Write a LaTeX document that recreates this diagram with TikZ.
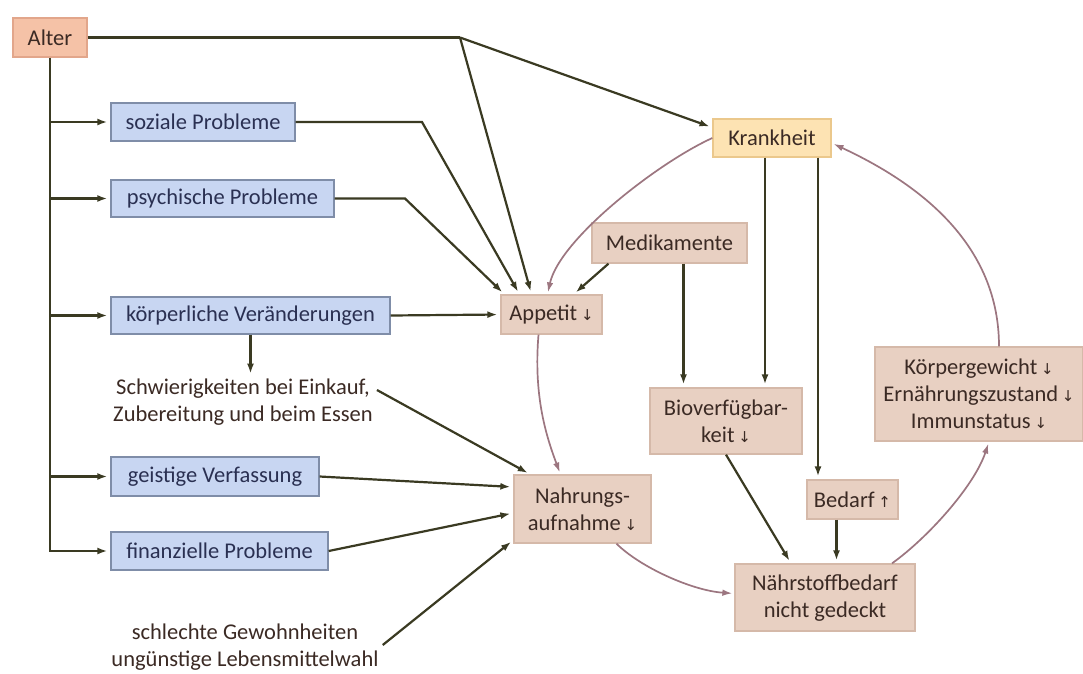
\documentclass[tikz,border=0pt]{standalone}
\usepackage{fontspec}
\setmainfont{Carlito}
\newfontfamily\arrowfont{DejaVu Sans}
\usetikzlibrary{arrows.meta,calc}
\definecolor{alterfill}{HTML}{F5C2A7}
\definecolor{alterborder}{HTML}{E2A68B}
\definecolor{bluefill}{HTML}{C8D6F2}
\definecolor{blueborder}{HTML}{7F8DA8}
\definecolor{bluetext}{HTML}{2A3052}
\definecolor{krankfill}{HTML}{FDE3B3}
\definecolor{krankborder}{HTML}{EBC88C}
\definecolor{rosefill}{HTML}{E8D0C2}
\definecolor{roseborder}{HTML}{D5B9A9}
\definecolor{txtcol}{HTML}{3B2A24}
\definecolor{linecol}{HTML}{3A3A22}
\definecolor{curvecol}{HTML}{9C7680}
\newcommand{\dnar}{\,{\arrowfont\fontsize{15}{15}\selectfont ↓}}
\newcommand{\upar}{\,{\arrowfont\fontsize{15}{15}\selectfont ↑}}
\begin{document}
\begin{tikzpicture}[x=1pt,y=-1pt,
  font=\fontsize{22.5}{27}\selectfont,
  box/.style={draw, line width=1.3pt, inner sep=0pt, align=center, text=txtcol},
  alterbox/.style={box, fill=alterfill, draw=alterborder},
  bluebox/.style={box, fill=bluefill, draw=blueborder, text=bluetext},
  krankbox/.style={box, fill=krankfill, draw=krankborder},
  rosebox/.style={box, fill=rosefill, draw=roseborder},
  plain/.style={align=center, text=txtcol, inner sep=2pt},
  ln/.style={draw=linecol, line width=2.2pt},
  arr/.style={draw=linecol, line width=2.2pt, -{Latex[length=10pt,width=7pt]}, shorten >=3pt},
  carr/.style={draw=curvecol, line width=1.7pt, -{Latex[length=10pt,width=6.5pt]}, shorten >=2pt}]
\useasboundingbox[fill=white] (0,0) rectangle (1083,673);

% nodes
\node[alterbox, minimum width=74pt, minimum height=39pt] (alter) at (50,37.5) {Alter};
\node[bluebox, minimum width=184pt, minimum height=38pt] (soz) at (203,122) {soziale Probleme};
\node[bluebox, minimum width=223pt, minimum height=37pt] (psy) at (222.5,198.5) {psychische Probleme};
\node[bluebox, minimum width=279pt, minimum height=37pt] (koe) at (250.5,315.5) {körperliche Veränderungen};
\node[bluebox, minimum width=208pt, minimum height=39pt] (geist) at (215,476.5) {geistige Verfassung};
\node[bluebox, minimum width=217pt, minimum height=38pt] (fin) at (219.5,551) {finanzielle Probleme};
\node[plain] (schw) at (243,402) {Schwierigkeiten bei Einkauf,\\Zubereitung und beim Essen};
\node[plain] (schl) at (245,647) {schlechte Gewohnheiten\\ungünstige Lebensmittelwahl};
\node[krankbox, minimum width=118pt, minimum height=38pt] (krank) at (772,138) {Krankheit};
\node[rosebox, minimum width=155pt, minimum height=40pt] (medi) at (669.5,243) {Medikamente};
\node[rosebox, minimum width=101pt, minimum height=39pt] (app) at (551.5,314.5) {Appetit\dnar};
\node[rosebox, minimum width=152pt, minimum height=66pt] (bio) at (726,421) {Bioverfügbar-\\keit\dnar};
\node[rosebox, minimum width=137pt, minimum height=68pt] (nahr) at (582.5,509) {Nahrungs-\\aufnahme\dnar};
\node[rosebox, minimum width=91pt, minimum height=39pt] (bed) at (852.5,499.5) {Bedarf\upar};
\node[rosebox, minimum width=180pt, minimum height=67pt] (naehr) at (825,597.5) {Nährstoffbedarf\\nicht gedeckt};
\node[rosebox, minimum width=208pt, minimum height=94pt] (koerp) at (979,394) {Körpergewicht\dnar\\Ernährungszustand\dnar\\Immunstatus\dnar};

% helper coordinates
\coordinate (k1) at (460,37.5);
\coordinate (sb) at (422,122);
\coordinate (pb) at (405,198.5);
\coordinate (m1) at ([xshift=14pt]medi.south);
\coordinate (kr1) at ([xshift=-7pt]krank.south);
\coordinate (kr2) at ([xshift=46pt]krank.south);
\coordinate (b1) at ([xshift=-16pt]bed.south);
\coordinate (ks) at (koe.south);

% Alter trunk and branches
\draw[arr] (alter.south) |- (fin.west);
\foreach \n in {soz,psy,koe,geist} \draw[arr] (alter.south |- \n.west) -- (\n.west);

% Alter to Krankheit and Appetit
\draw[ln] (alter.east) -- (k1);
\draw[arr] (k1) -- (krank.170);
\draw[arr] (k1) -- ([xshift=-20pt]app.north);
\draw[arr] (soz.east) -- (sb) -- ([xshift=-32pt]app.north);
\draw[arr] (psy.east) -- (pb) -- ([xshift=-47pt]app.north);
\draw[arr] (koe.east) -- (app.west);
\draw[arr] (ks) -- (ks |- schw.north);

% into Nahrungsaufnahme
\draw[arr] ([yshift=12pt,xshift=2pt]schw.east) -- ([xshift=17pt]nahr.north west);
\draw[arr] (geist.east) -- ([yshift=22pt]nahr.west);
\draw[arr] (fin.east) -- ([yshift=-4pt]nahr.west);
\draw[arr] ([yshift=2pt,xshift=2pt]schl.east) -- ([yshift=-31pt]nahr.west);

% right part straight
\draw[arr] ([xshift=-61pt]medi.south) -- ([xshift=22pt]app.north);
\draw[arr] (m1) -- (m1 |- bio.north);
\draw[arr] (kr1) -- (kr1 |- bio.north);
\draw[arr] (kr2) -- (kr2 |- bed.north);
\draw[arr] (bio.south) -- ([xshift=-34pt]naehr.north);
\draw[arr] (b1) -- (b1 |- naehr.north);

% curved cycle
\draw[carr] (krank.west) .. controls +(-55,25) and +(12,-55) .. ([xshift=-4pt]app.north);
\draw[carr] ([xshift=-13pt]app.south) .. controls +(-5,60) and +(-15,-40) .. ([xshift=-22pt]nahr.north);
\draw[carr] ([xshift=34pt]nahr.south) .. controls +(23,23) and +(-43,-3) .. ([yshift=4pt]naehr.west);
\draw[carr] ([xshift=67pt]naehr.north) .. controls +(35,-25) and +(-15,45) .. ([xshift=10pt]koerp.south);
\draw[carr] ([xshift=20pt]koerp.north) .. controls +(0,-110) and +(75,35) .. ([yshift=-5pt]krank.east);
\end{tikzpicture}
\end{document}
